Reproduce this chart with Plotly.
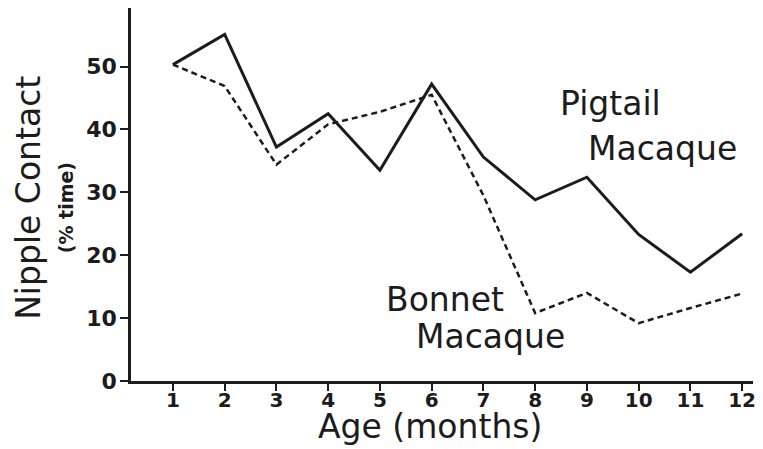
import plotly.graph_objects as go

# age in months
age = [1, 2, 3, 4, 5, 6, 7, 8, 9, 10, 11, 12]
# nipple contact (% time)
pigtail = [50.3, 55.1, 37.2, 42.5, 33.5, 47.2, 35.6, 28.8, 32.4, 23.3, 17.3, 23.4]
bonnet = [50.3, 46.9, 34.4, 40.8, 42.8, 45.5, 29.5, 10.8, 14.0, 9.2, 11.6, 13.9]
y_ticks = [0, 10, 20, 30, 40, 50]

INK = "#1c1c1c"
FONT = "DejaVu Sans"

fig = go.Figure()
fig.add_trace(go.Scatter(
    x=age, y=pigtail, mode="lines", name="Pigtail Macaque",
    line=dict(color=INK, width=3),
))
fig.add_trace(go.Scatter(
    x=age, y=bonnet, mode="lines", name="Bonnet Macaque",
    line=dict(color=INK, width=2.5, dash="6px,4px"),
))

# series labels, written on the chart like the original
lab = dict(size=33, color=INK, family=FONT)
fig.add_annotation(x=9.45, y=44.1, text="Pigtail", showarrow=False, font=lab)
fig.add_annotation(x=10.46, y=36.9, text="Macaque", showarrow=False, font=lab)
fig.add_annotation(x=6.26, y=12.9, text="Bonnet", showarrow=False, font=lab)
fig.add_annotation(x=7.13, y=7.0, text="Macaque", showarrow=False, font=lab)

# axis titles
fig.add_annotation(xref="paper", yref="paper", x=-0.165, y=0.492,
                   text="Nipple Contact", textangle=-90, showarrow=False,
                   xanchor="center", yanchor="middle",
                   font=dict(size=33, color=INK, family=FONT))
fig.add_annotation(xref="paper", yref="paper", x=-0.104, y=0.464,
                   text="<b>(% time)</b>", textangle=-90, showarrow=False,
                   xanchor="center", yanchor="middle",
                   font=dict(size=19, color=INK, family=FONT))
fig.add_annotation(xref="paper", yref="paper", x=0.481, y=-0.122,
                   text="Age (months)", showarrow=False,
                   xanchor="center", yanchor="middle",
                   font=dict(size=33, color=INK, family=FONT))

fig.update_layout(
    width=763, height=449,
    paper_bgcolor="white", plot_bgcolor="white",
    showlegend=False,
    margin=dict(l=123, r=18, t=0, b=76),
    font=dict(family=FONT, color=INK),
    xaxis=dict(
        range=[0.19, 12.21], tickvals=age,
        showgrid=False, zeroline=False,
        showline=True, linecolor=INK, linewidth=2.5,
        ticks="outside", ticklen=7, tickwidth=2, tickcolor=INK,
        ticklabelstandoff=-8,
        tickfont=dict(size=20, color=INK, family=FONT, weight="bold"),
    ),
    yaxis=dict(
        range=[0, 59.3], tickvals=y_ticks,
        showgrid=False, zeroline=False,
        showline=True, linecolor=INK, linewidth=2.5,
        ticks="outside", ticklen=8, tickwidth=2, tickcolor=INK,
        ticklabelstandoff=-1,
        tickfont=dict(size=22, color=INK, family=FONT, weight="bold"),
    ),
)

fig.write_html("out.html")
